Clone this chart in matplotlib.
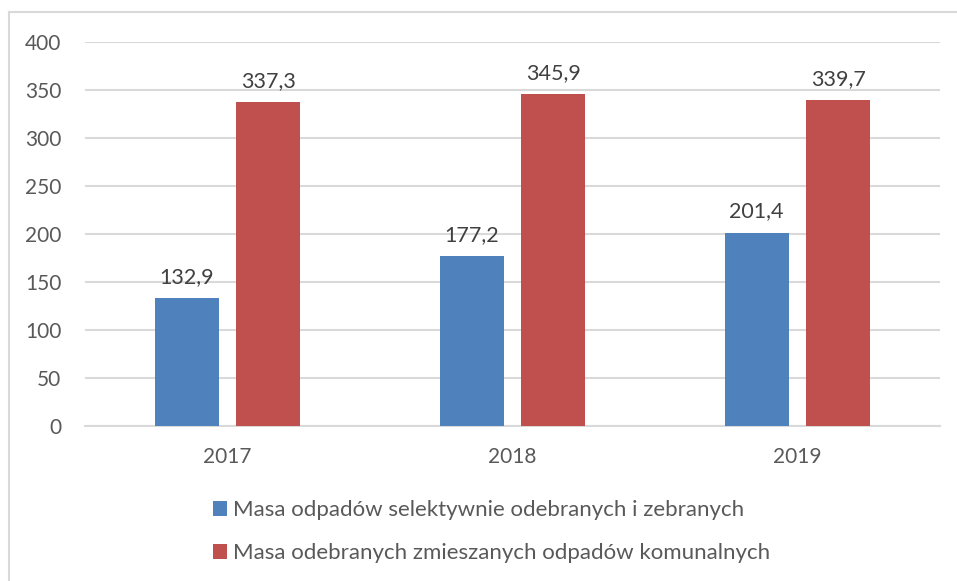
import numpy as np
import matplotlib.pyplot as plt
from matplotlib.lines import Line2D

# Dane
lata = ['2017', '2018', '2019']
selektywne = [132.9, 177.2, 201.4]
zmieszane = [337.3, 345.9, 339.7]
nazwy = ['Masa odpadów selektywnie odebranych i zebranych',
         'Masa odebranych zmieszanych odpadów komunalnych']
kolory = ['#4F81BD', '#C0504D']

plt.rcParams['font.family'] = ['Lato', 'DejaVu Sans']
szary = '#595959'

fig = plt.figure(figsize=(9.57, 5.81), dpi=100)
ax = fig.add_axes([85 / 957, (581 - 426) / 581, 855 / 957, 384 / 581])

x = np.arange(len(lata))
w = 0.225
b1 = ax.bar(x - 0.143, selektywne, w, color=kolory[0], label=nazwy[0], zorder=3)
b2 = ax.bar(x + 0.143, zmieszane, w, color=kolory[1], label=nazwy[1], zorder=3)

for bars in (b1, b2):
    for r in bars:
        ax.annotate(f'{r.get_height():.1f}'.replace('.', ','),
                    (r.get_x() + r.get_width() / 2, r.get_height()),
                    xytext=(0, 8), textcoords='offset points',
                    ha='center', va='bottom', fontsize=15.5, color='#404040')

ax.set_xlim(-0.5, 2.5)
ax.set_ylim(0, 400)
ax.set_yticks(range(0, 401, 50))
ax.set_xticks(x)
ax.set_xticklabels(lata)
ax.tick_params(axis='both', length=0, labelsize=15, colors=szary)
ax.tick_params(axis='x', pad=15)
ax.tick_params(axis='y', pad=17)
ax.grid(axis='y', color='#D9D9D9', linewidth=1.5, zorder=0)
for s in ['top', 'right', 'left']:
    ax.spines[s].set_visible(False)
ax.spines['bottom'].set_color('#D9D9D9')
ax.spines['bottom'].set_linewidth(1.5)

# Legenda
fig.legend(loc='upper left', bbox_to_anchor=(193 / 957, 1 - 480 / 581),
           frameon=False, fontsize=16, labelcolor=szary,
           handlelength=0.65, handleheight=0.65, handletextpad=0.25,
           labelspacing=1.05)

# Ramka
fig.add_artist(Line2D([9 / 957, 1], [1 - 12 / 581] * 2, color='#D9D9D9', lw=1.5))
fig.add_artist(Line2D([9 / 957] * 2, [0, 1 - 12 / 581], color='#D9D9D9', lw=1.5))

fig.savefig('out.png', dpi=100)
